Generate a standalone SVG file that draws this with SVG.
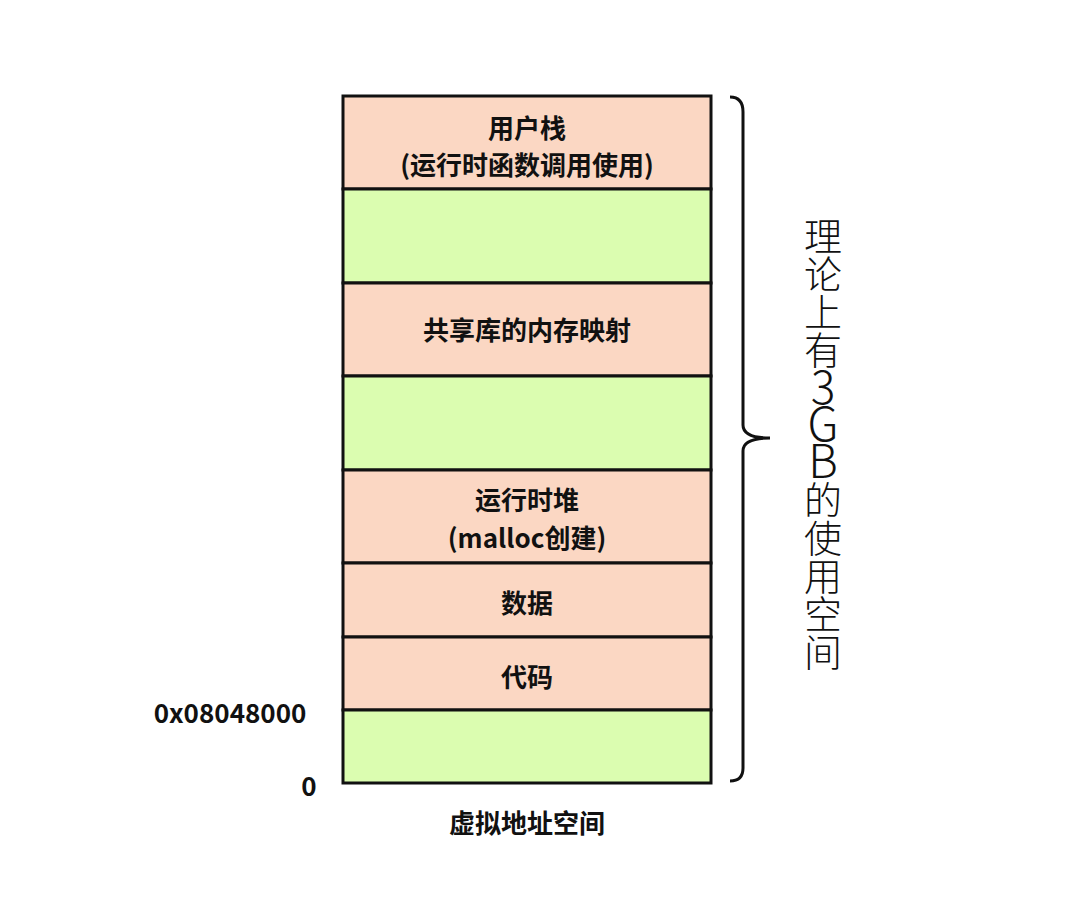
<svg xmlns="http://www.w3.org/2000/svg" width="1080" height="918" viewBox="0 0 1080 918">
<style>
.s{fill:#fbd7c3;stroke:#111;stroke-width:3}
.g{fill:#dbfdb0;stroke:#111;stroke-width:3}
.t{font-family:"Noto Sans CJK SC","Liberation Sans",sans-serif;font-weight:bold;font-size:26px;fill:#111;text-anchor:middle}
.v{font-family:"Noto Sans CJK SC",sans-serif;font-weight:300;font-size:38px;fill:#111;text-anchor:middle}
.l{font-size:46px}
</style>
<rect width="1080" height="918" fill="#fff"/>
<g id="stack"><rect class="s" x="343" y="96" width="368" height="93"/><text class="t" x="527" y="138">用户栈</text><text class="t" x="527" y="175">(运行时函数调用使用)</text></g>
<g id="gap1"><rect class="g" x="343" y="189" width="368" height="94"/></g>
<g id="shlib"><rect class="s" x="343" y="283" width="368" height="93"/><text class="t" x="527" y="340">共享库的内存映射</text></g>
<g id="gap2"><rect class="g" x="343" y="376" width="368" height="94"/></g>
<g id="heap"><rect class="s" x="343" y="470" width="368" height="93"/><text class="t" x="527" y="510">运行时堆</text><text class="t" x="527" y="548">(malloc创建)</text></g>
<g id="data"><rect class="s" x="343" y="563" width="368" height="74"/><text class="t" x="527" y="613">数据</text></g>
<g id="code"><rect class="s" x="343" y="637" width="368" height="73"/><text class="t" x="527" y="687">代码</text></g>
<g id="gap3"><rect class="g" x="343" y="710" width="368" height="73"/></g>
<g id="labels">
<text class="t" x="230" y="723">0x08048000</text>
<text class="t" x="309" y="796">0</text>
<text class="t" x="527" y="833">虚拟地址空间</text>
</g>
<g id="connectors"><path d="M730,97 Q743,97 743,112 L743,425 Q743,438 770,438 Q743,438 743,451 L743,768 Q743,781 730,781" fill="none" stroke="#111" stroke-width="3"/></g>
<g id="side">
<text class="v" x="823" y="250">理</text>
<text class="v" x="823" y="288">论</text>
<text class="v" x="823" y="326">上</text>
<text class="v" x="823" y="364">有</text>
<text class="v l" x="823" y="404">3</text>
<text class="v l" x="823" y="441">G</text>
<text class="v l" x="823" y="478">B</text>
<text class="v" x="823" y="514">的</text>
<text class="v" x="823" y="552">使</text>
<text class="v" x="823" y="590">用</text>
<text class="v" x="823" y="628">空</text>
<text class="v" x="823" y="666">间</text>
</g>
</svg>
